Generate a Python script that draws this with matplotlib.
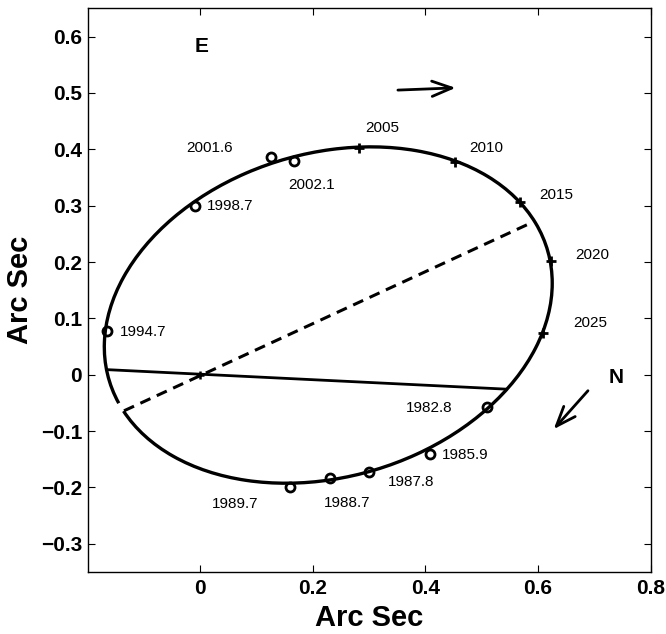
import matplotlib
matplotlib.use("Agg")
import matplotlib.pyplot as plt
from matplotlib.patches import Arc

plt.rcParams['font.family'] = ['Liberation Sans', 'DejaVu Sans']

# ---- data ----
# apparent orbit (ellipse) parameters
orbit_center = (0.2273, 0.1059)
orbit_a = 0.4061
orbit_b = 0.2870
orbit_angle = 16.5
orbit_gap = (186.3, 188.6)   # small gap in the drawn ellipse (degrees)

# observations
obs_years = ["1982.8", "1985.9", "1987.8", "1988.7", "1989.7",
             "1994.7", "1998.7", "2001.6", "2002.1"]
obs_x = [0.5098, 0.4074, 0.2996, 0.2304, 0.1593, -0.1652, -0.0094, 0.1256, 0.1657]
obs_y = [-0.0569, -0.1410, -0.1723, -0.1836, -0.1990, 0.0781, 0.2995, 0.3865, 0.3794]

# predicted positions
pred_years = ["2005", "2010", "2015", "2020", "2025"]
pred_x = [0.2813, 0.4530, 0.5684, 0.6235, 0.6087]
pred_y = [0.4025, 0.3777, 0.3073, 0.2012, 0.0739]

# line of nodes and line of apsides
nodes_x = [-0.1634, 0.5435]
nodes_y = [0.0089, -0.0256]
apsis_x = [-0.1355, 0.5910]
apsis_y = [-0.0640, 0.2710]
primary = (0.0, 0.0)

xticks = [0, 0.2, 0.4, 0.6, 0.8]
xtick_labels = ["0", "0.2", "0.4", "0.6", "0.8"]
yticks = [-0.3, -0.2, -0.1, 0, 0.1, 0.2, 0.3, 0.4, 0.5, 0.6]
ytick_labels = ["\u22120.3", "\u22120.2", "\u22120.1", "0", "0.1", "0.2", "0.3", "0.4", "0.5", "0.6"]

# ---- label placement (layout) ----
obs_label_pos = [(0.3659, -0.0593), (0.4298, -0.1425), (0.3334, -0.1900),
                 (0.2187, -0.2277), (0.0213, -0.2291), (-0.1426, 0.0760),
                 (0.0114, 0.2986), (-0.0242, 0.4014), (0.1563, 0.3366)]
pred_label_pos = [(0.2931, 0.4378), (0.4785, 0.4020), (0.6016, 0.3194),
                  (0.6660, 0.2122), (0.6620, 0.0915)]

fig = plt.figure(figsize=(6.66, 6.34), dpi=100)
ax = fig.add_axes([0.1317, 0.0978, 0.8453, 0.889])

# ellipse
ax.add_patch(Arc(orbit_center, 2 * orbit_a, 2 * orbit_b, angle=orbit_angle,
                 theta1=orbit_gap[1], theta2=orbit_gap[0],
                 lw=2.4, color='k', zorder=2))

ax.plot(nodes_x, nodes_y, color='k', lw=2.0, zorder=2)
ax.plot(apsis_x, apsis_y, color='k', lw=2.2, ls=(0, (3.6, 2.3)), zorder=2)
ax.plot([primary[0]], [primary[1]], marker='+', ms=6, mew=1.8, color='k', zorder=3)

ax.plot(obs_x, obs_y, ls='none', marker='o', ms=6.5, mew=2.0,
        mfc='none', mec='k', zorder=4)
ax.plot(pred_x, pred_y, ls='none', marker='+', ms=7, mew=2.0, color='k', zorder=4)

for lab, (tx, ty) in zip(obs_years, obs_label_pos):
    ax.text(tx, ty, lab, fontsize=11, ha='left', va='center')
for lab, (tx, ty) in zip(pred_years, pred_label_pos):
    ax.text(tx, ty, lab, fontsize=11, ha='left', va='center')

ax.text(-0.0094, 0.5826, "E", fontsize=15, fontweight='bold', ha='left', va='center')
ax.text(0.7247, -0.0050, "N", fontsize=15, fontweight='bold', ha='left', va='center')

arrow_style = dict(arrowstyle='->,head_length=0.65,head_width=0.25', lw=2.0,
                   color='k', mutation_scale=22, shrinkA=0, shrinkB=0)
ax.annotate('', xy=(0.4536, 0.509), xytext=(0.351, 0.505), arrowprops=arrow_style)
ax.annotate('', xy=(0.6277, -0.0966), xytext=(0.6886, -0.0284), arrowprops=arrow_style)

ax.set_xlim(-0.2, 0.8)
ax.set_ylim(-0.35, 0.65)
ax.set_xticks(xticks)
ax.set_xticklabels(xtick_labels, fontsize=15, fontweight='bold')
ax.set_yticks(yticks)
ax.set_yticklabels(ytick_labels, fontsize=15, fontweight='bold')
ax.tick_params(direction='in', top=True, right=True, length=5, width=0.8)
ax.tick_params(axis='x', pad=5)
ax.tick_params(axis='y', pad=4)
for s in ax.spines.values():
    s.set_linewidth(1.0)

ax.set_xlabel("Arc Sec", fontsize=21, fontweight='bold')
ax.set_ylabel("Arc Sec", fontsize=21, fontweight='bold')
ax.xaxis.set_label_coords(0.5, -0.057)
ax.yaxis.set_label_coords(-0.1197, 0.5)
ax.yaxis.label.set_va('center')

fig.savefig("out.png", dpi=100)
